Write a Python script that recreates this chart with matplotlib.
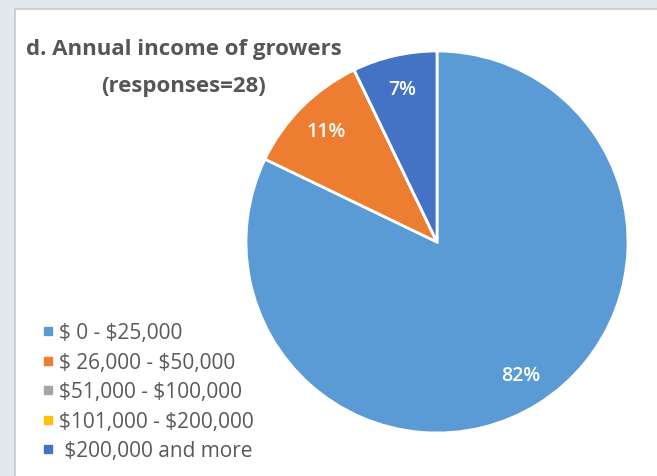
import matplotlib
matplotlib.use("Agg")
import matplotlib.pyplot as plt
from matplotlib.patches import Rectangle
from matplotlib.lines import Line2D

plt.rcParams['font.family'] = ['Open Sans', 'DejaVu Sans']
plt.rcParams['text.parse_math'] = False

categories = ["$ 0 - $25,000", "$ 26,000 - $50,000", "$51,000 - $100,000",
              "$101,000 - $200,000", " $200,000 and more"]
responses = [23, 3, 0, 0, 2]
colors = ["#5b9bd5", "#ed7d31", "#a5a5a5", "#ffc000", "#4472c4"]
title_lines = ["d. Annual income of growers", "(responses=28)"]

W, H = 657, 477
fig = plt.figure(figsize=(W / 100, H / 100), dpi=100, facecolor="#e2e9ed")

# white chart panel with thin grey border
fig.patches.append(Rectangle((15 / W, -0.01), 1.0, 1 - 10 / H + 0.01,
                             transform=fig.transFigure, facecolor="white",
                             edgecolor="#c6c9cb", linewidth=1.2, zorder=-5))

cx, cy, r = 437, 243, 191
ax = fig.add_axes([(cx - r) / W, (H - cy - r) / H, 2 * r / W, 2 * r / H])
ax.set_facecolor("none")
ax.set_zorder(3)


def pct_label(p):
    return f"{p:.0f}%" if p > 0.5 else ""


wedges, texts, autotexts = ax.pie(
    responses, colors=colors, startangle=90, counterclock=False,
    autopct=pct_label, pctdistance=0.82, radius=1.0,
    wedgeprops=dict(edgecolor="white", linewidth=2),
    textprops=dict(color="white", fontsize=14, fontweight="semibold"))
ax.set_xlim(-1.0, 1.0)
ax.set_ylim(-1.0, 1.0)
ax.set_aspect("equal")
ax.axis("off")

fig.text(184 / W, 1 - 50 / H, title_lines[0], ha="center", va="center",
         fontsize=16, fontweight="bold", color="#565656")
fig.text(184 / W, 1 - 87 / H, title_lines[1], ha="center", va="center",
         fontsize=16, fontweight="bold", color="#565656")

handles = [Line2D([], [], marker="s", linestyle="none", markersize=5.5,
                  markerfacecolor=c, markeredgecolor=c) for c in colors]
fig.legend(handles, categories, loc="upper left",
           bbox_to_anchor=(34 / W, 1 - 315 / H), frameon=False,
           fontsize=15, labelcolor="#595959", handlelength=0.53,
           handletextpad=0.28, labelspacing=0.41, borderaxespad=0)

fig.savefig("out.png", dpi=100, facecolor=fig.get_facecolor())
